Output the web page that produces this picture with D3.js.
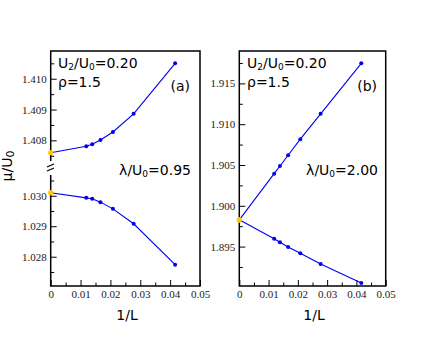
<!DOCTYPE html>
<html>
<head>
<meta charset="utf-8">
<script src="https://cdn.jsdelivr.net/npm/d3@7"></script>
<style>
  body { margin: 0; background: #fff; }
  .tick text { font-family: "Liberation Serif", "DejaVu Serif", serif; font-size: 11px; fill: #222; }
  .note { font-family: "DejaVu Sans", sans-serif; font-size: 14px; fill: #000; }
</style>
</head>
<body>
<div id="chart"></div>
<script>
// 1/L values for L = 84, 72, 60, 48, 36, 24, plus the extrapolated point at 0
const invL = [0.011905, 0.013889, 0.016667, 0.020833, 0.027778, 0.041667];

// panel (a), lambda/U0 = 0.95
const aUpper = [1.40781, 1.40787, 1.40801, 1.40827, 1.40886, 1.41050];
const aLower = [1.02993, 1.02990, 1.02979, 1.02957, 1.02908, 1.02774];
const aUpperExtrap = 1.40760;
const aLowerExtrap = 1.03010;

// panel (b), lambda/U0 = 2.00
const bUpper = [1.90394, 1.90488, 1.90619, 1.90816, 1.91127, 1.91746];
const bLower = [1.89595, 1.89553, 1.89496, 1.89418, 1.89287, 1.89054];
const bExtrap = 1.89828;

const xTicks = [0, 0.01, 0.02, 0.03, 0.04, 0.05];
const aUpperTicks = [1.408, 1.409, 1.410];
const aLowerTicks = [1.028, 1.029, 1.030];
const bTicks = [1.895, 1.900, 1.905, 1.910, 1.915];

const width = 436, height = 337;
const blue = "#0000ee", gold = "#ffc800";

const svg = d3.select("#chart").append("svg")
    .attr("width", width)
    .attr("height", height);

svg.append("rect").attr("width", width).attr("height", height).attr("fill", "#fff");

const plotTop = 51, plotBottom = 286;
const xA = d3.scaleLinear().domain([0, 0.05]).range([50.7, 200]);
const xB = d3.scaleLinear().domain([0, 0.05]).range([239.3, 385.7]);
const yAU = d3.scaleLinear().domain([1.40733, 1.4109]).range([161, plotTop]);
const yAL = d3.scaleLinear().domain([1.02704, 1.03068]).range([plotBottom, 175]);
const yB = d3.scaleLinear().domain([1.89017, 1.91897]).range([plotBottom, plotTop]);

const xFmt = d => d === 0 ? "0" : d3.format(".2f")(d);

function xAxis(x) {
    const g = svg.append("g").attr("transform", `translate(0,${plotBottom})`);
    g.call(d3.axisBottom(x).tickValues(xTicks).tickFormat(xFmt).tickSize(-6).tickPadding(4));
    g.append("g").call(d3.axisBottom(x).tickValues([0.005, 0.015, 0.025, 0.035, 0.045]).tickFormat("").tickSize(-3.5));
    g.selectAll(".domain").remove();
    g.selectAll("line").attr("stroke", "#000").attr("stroke-width", 1);
}

function yAxis(y, x0, ticks, minorTicks) {
    const g = svg.append("g").attr("transform", `translate(${x0},0)`);
    g.call(d3.axisLeft(y).tickValues(ticks).tickFormat(d3.format(".3f")).tickSize(-6).tickPadding(4));
    g.append("g").call(d3.axisLeft(y).tickValues(minorTicks).tickFormat("").tickSize(-3.5));
    g.selectAll(".domain").remove();
    g.selectAll("line").attr("stroke", "#000").attr("stroke-width", 1);
}

xAxis(xA);
xAxis(xB);
yAxis(yAU, xA(0), aUpperTicks, [1.4075, 1.4085, 1.4095, 1.4105]);
yAxis(yAL, xA(0), aLowerTicks, [1.0275, 1.0285, 1.0295, 1.0305]);
yAxis(yB, xB(0), bTicks, [1.8925, 1.8975, 1.9025, 1.9075, 1.9125, 1.9175]);

// frames
const frame = svg.append("g").attr("fill", "none").attr("stroke", "#000").attr("stroke-width", 1.5);
frame.append("path").attr("d",
    `M${xA(0)},161 V${plotTop} H${xA(0.05)} V${plotBottom} H${xA(0)} V175`);
frame.append("rect")
    .attr("x", xB(0)).attr("y", plotTop)
    .attr("width", xB(0.05) - xB(0)).attr("height", plotBottom - plotTop);

// axis break marks
frame.append("line").attr("x1", 47).attr("y1", 167).attr("x2", 54).attr("y2", 164).attr("stroke-width", 1.3);
frame.append("line").attr("x1", 47).attr("y1", 171).attr("x2", 54).attr("y2", 168).attr("stroke-width", 1.3);

function series(x, y, vals, extrap) {
    const pts = [[0, extrap]].concat(invL.map((v, i) => [v, vals[i]]));
    svg.append("path")
        .attr("d", d3.line().x(d => x(d[0])).y(d => y(d[1]))(pts))
        .attr("fill", "none").attr("stroke", blue).attr("stroke-width", 1.1);
    svg.append("g").selectAll("circle").data(pts.slice(1)).join("circle")
        .attr("cx", d => x(d[0])).attr("cy", d => y(d[1])).attr("r", 2).attr("fill", blue);
    svg.append("circle").attr("cx", x(0)).attr("cy", y(extrap)).attr("r", 2.6).attr("fill", gold);
}

series(xA, yAU, aUpper, aUpperExtrap);
series(xA, yAL, aLower, aLowerExtrap);
series(xB, yB, bUpper, bExtrap);
series(xB, yB, bLower, bExtrap);

// annotations
function note(x, y, parts, anchor) {
    const t = svg.append("text").attr("class", "note").attr("x", x).attr("y", y)
        .attr("text-anchor", anchor || "start");
    parts.forEach(p => {
        const s = t.append("tspan").text(p[0]);
        if (p[1]) s.attr("font-size", "9px").attr("dy", 2);
        else if (p[2]) s.attr("dy", -2);
    });
    return t;
}

function labels(x, xr, lam, tag) {
    note(x, 68, [["U"], ["2", true], ["/U", false, true], ["0", true], ["=0.20", false, true]]);
    note(x, 87, [["ρ=1.5"]]);
    note(xr, 91, [[tag]], "end");
    note(xr + 1, 175, [["λ/U"], ["0", true], ["=" + lam, false, true]], "end").attr("font-size", "15px");
}
labels(58, 190, "0.95", "(a)");
labels(247, 377, "2.00", "(b)");

// axis titles
svg.append("text").attr("class", "note").attr("font-size", "17px")
    .attr("x", 127).attr("y", 320).attr("text-anchor", "middle").text("1/L");
svg.append("text").attr("class", "note").attr("font-size", "17px")
    .attr("x", 314).attr("y", 320).attr("text-anchor", "middle").text("1/L");

const yl = svg.append("text").attr("class", "note").attr("font-size", "17px")
    .attr("transform", "translate(12,166) rotate(-90)").attr("text-anchor", "middle");
yl.append("tspan").text("μ/U");
yl.append("tspan").text("0").attr("font-size", "11px").attr("dy", 2);
</script>
</body>
</html>
